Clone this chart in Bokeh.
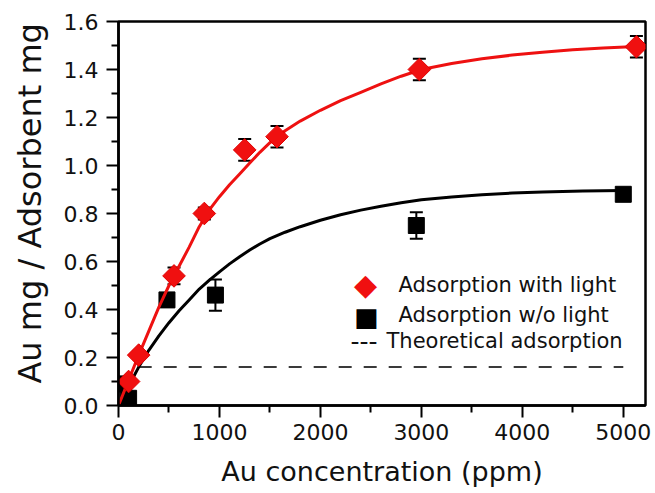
import math
from bokeh.plotting import figure
from bokeh.models import (Range1d, FixedTicker, NumeralTickFormatter, Whisker,
                          ColumnDataSource, Label, TeeHead)
from bokeh.embed import file_html
from bokeh.resources import INLINE

# ---------------- data ----------------
x_label = "Au concentration (ppm)"
y_label = "Au mg / Adsorbent mg"

x_major = [0, 1000, 2000, 3000, 4000, 5000]
x_minor = [500, 1500, 2500, 3500, 4500]
y_major = [0.0, 0.2, 0.4, 0.6, 0.8, 1.0, 1.2, 1.4, 1.6]
y_minor = [0.1, 0.3, 0.5, 0.7, 0.9, 1.1, 1.3, 1.5]

# Adsorption with light (red diamonds)
red_x = [100, 200, 550, 850, 1250, 1570, 2980, 5130]
red_y = [0.10, 0.21, 0.54, 0.80, 1.065, 1.12, 1.40, 1.495]
red_err = [0.015, 0.015, 0.035, 0.025, 0.045, 0.045, 0.045, 0.045]

# Adsorption w/o light (black squares)
blk_x = [50, 100, 480, 960, 2950, 5000]
blk_y = [0.09, 0.03, 0.44, 0.46, 0.75, 0.88]
blk_err = [0.02, 0.02, 0.0, 0.065, 0.055, 0.01]

# fitted curves
red_fit_x = [0, 100, 200, 300, 400, 500, 600, 700, 800, 900, 1000, 1100, 1200, 1300, 1400,
             1500, 1650, 1800, 2000, 2200, 2400, 2600, 2800, 3000, 3300, 3600, 3900, 4200,
             4500, 4800, 5130]
red_fit_y = [0, 0.105, 0.21, 0.31, 0.41, 0.50, 0.58, 0.66, 0.745, 0.815, 0.87, 0.92, 0.965,
             1.01, 1.055, 1.095, 1.145, 1.185, 1.23, 1.27, 1.305, 1.34, 1.372, 1.40, 1.425,
             1.445, 1.46, 1.472, 1.482, 1.49, 1.496]
blk_fit_x = [0, 100, 200, 300, 400, 500, 600, 700, 800, 900, 1000, 1100, 1200, 1300, 1400,
             1500, 1650, 1800, 2000, 2200, 2400, 2600, 2800, 3000, 3300, 3600, 3900, 4200,
             4600, 5000]
blk_fit_y = [0, 0.08, 0.16, 0.23, 0.29, 0.345, 0.395, 0.44, 0.485, 0.522, 0.557, 0.59, 0.62,
             0.648, 0.673, 0.695, 0.722, 0.745, 0.772, 0.795, 0.814, 0.83, 0.845, 0.857,
             0.869, 0.878, 0.885, 0.89, 0.894, 0.896]

# theoretical adsorption
theo_x = [200, 5000]
theo_y = [0.16, 0.16]

legend_labels = ["Adsorption with light", "Adsorption w/o light", "Theoretical adsorption"]
legend_symbols = ["\u25C6", "\u25A0", "---"]

# ---------------- figure ----------------
FONT = "DejaVu Sans"
p = figure(width=655, height=493, output_backend="svg", toolbar_location=None,
           x_range=Range1d(0, 5220), y_range=Range1d(0, 1.6),
           min_border_left=118, min_border_right=10, min_border_top=21, min_border_bottom=88)
p.background_fill_color = "white"
p.border_fill_color = "white"
p.outline_line_color = "black"
p.outline_line_width = 2.5
p.grid.visible = False

p.xaxis.ticker = FixedTicker(ticks=x_major, minor_ticks=x_minor)
p.yaxis.ticker = FixedTicker(ticks=y_major, minor_ticks=y_minor)
p.xaxis.formatter = NumeralTickFormatter(format="0")
p.yaxis.formatter = NumeralTickFormatter(format="0.0")
p.xaxis.axis_label = x_label
# two no-break spaces lift the rotated title slightly, as in the reference
p.yaxis.axis_label = "\u00A0\u00A0" + y_label

for ax in (p.xaxis, p.yaxis):
    ax.axis_line_width = 2.5
    ax.axis_line_color = "black"
    ax.major_tick_in = 0
    ax.major_tick_out = 12
    ax.minor_tick_in = 0
    ax.minor_tick_out = 7
    ax.major_tick_line_width = 2
    ax.minor_tick_line_width = 2
    ax.major_tick_line_color = "black"
    ax.minor_tick_line_color = "black"
    ax.major_label_text_font = FONT
    ax.major_label_text_font_size = "22px"
    ax.major_label_text_color = "#111111"
    ax.axis_label_text_font = FONT
    ax.axis_label_text_font_style = "normal"
    ax.axis_label_text_color = "#111111"
p.xaxis.major_label_standoff = 6
p.yaxis.major_label_standoff = 8
p.xaxis.axis_label_text_font_size = "27px"
p.xaxis.axis_label_standoff = 13
p.yaxis.axis_label_text_font_size = "32px"
p.yaxis.axis_label_standoff = 12

# theoretical dashed line
p.line(theo_x, theo_y, line_color="#3a3a3a", line_width=2, line_dash="13 12")

# fitted curves and points
p.line(blk_fit_x, blk_fit_y, line_color="black", line_width=3)
blk_src = ColumnDataSource(dict(x=blk_x, y=blk_y,
                                lo=[v - e for v, e in zip(blk_y, blk_err)],
                                hi=[v + e for v, e in zip(blk_y, blk_err)]))
p.scatter("x", "y", source=blk_src, marker="square", size=16,
          fill_color="black", line_color="black")

p.line(red_fit_x, red_fit_y, line_color="#ee1111", line_width=3)
red_src = ColumnDataSource(dict(x=red_x, y=red_y,
                                lo=[v - e for v, e in zip(red_y, red_err)],
                                hi=[v + e for v, e in zip(red_y, red_err)]))
p.scatter("x", "y", source=red_src, marker="square", angle=math.pi / 4, size=16,
          fill_color="#f01010", line_color="#e00000")

for src in (red_src, blk_src):
    p.add_layout(Whisker(source=src, base="x", lower="lo", upper="hi", dimension="height",
                         line_color="black", line_width=2,
                         upper_head=TeeHead(size=13, line_width=2, line_color="black"),
                         lower_head=TeeHead(size=13, line_width=2, line_color="black")))

# legend (symbols and texts as labels, in screen units from the frame's lower left)
sym_x = [247, 248, 232]
sym_y = [121, 89, 65]
sym_size = ["30px", "26px", "25px"]
sym_color = ["#f01010", "black", "#111111"]
txt_x = [280, 280, 268]
txt_y = [121, 91, 65]
for i in range(3):
    p.add_layout(Label(x=sym_x[i], y=sym_y[i], x_units="screen", y_units="screen",
                       text=legend_symbols[i], text_align="center" if i < 2 else "left",
                       text_baseline="middle", text_font=FONT, text_font_size=sym_size[i],
                       text_color=sym_color[i]))
    p.add_layout(Label(x=txt_x[i], y=txt_y[i], x_units="screen", y_units="screen",
                       text=legend_labels[i], text_align="left", text_baseline="middle",
                       text_font=FONT, text_font_size="21px", text_color="#111111"))

open("out.html", "w").write(file_html(p, INLINE))
